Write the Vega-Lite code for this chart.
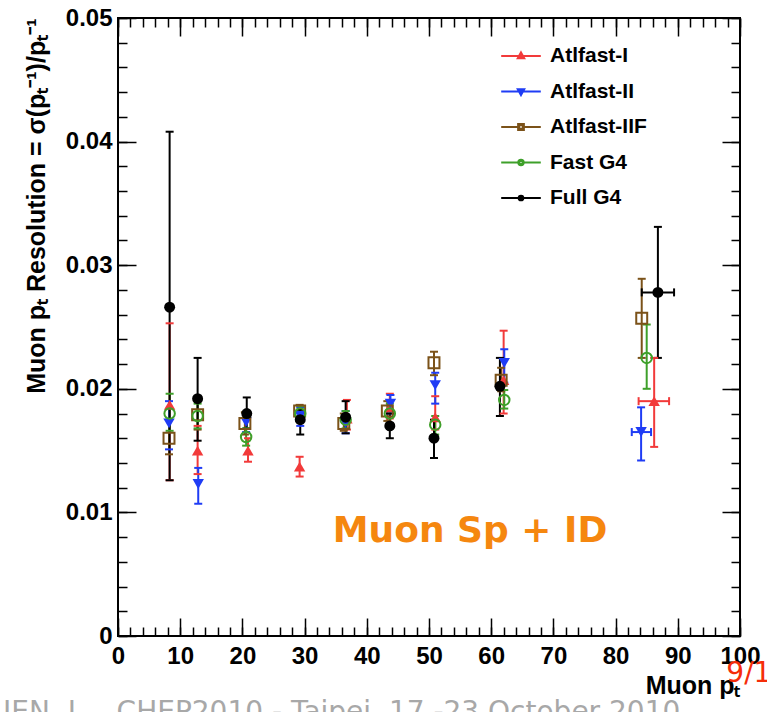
{
  "$schema": "https://vega.github.io/schema/vega-lite/v6.json",
  "width": 622,
  "height": 618,
  "autosize": {"type": "none"},
  "padding": {"left": 118, "top": 18, "right": 27, "bottom": 76},
  "background": "white",
  "config": {
    "view": {"stroke": "black", "strokeWidth": 2},
    "axis": {
      "domain": false, "grid": false,
      "labelFont": "Liberation Sans", "labelFontWeight": "bold", "labelFontSize": 24, "labelColor": "black",
      "labelFlush": false, "labelOverlap": false,
      "tickColor": "black", "tickWidth": 1.5,
      "titleFont": "Liberation Sans", "titleFontWeight": "bold", "titleFontSize": 25, "titleColor": "black"
    }
  },
  "datasets": {
    "pts": [
      {"s": "Atlfast-I", "x": 8.3, "y": 0.0187, "ylo": 0.0126, "yhi": 0.0253},
      {"s": "Atlfast-I", "x": 12.8, "y": 0.0150, "ylo": 0.0131, "yhi": 0.0170},
      {"s": "Atlfast-I", "x": 20.9, "y": 0.0150, "ylo": 0.0141, "yhi": 0.0160},
      {"s": "Atlfast-I", "x": 29.2, "y": 0.0137, "ylo": 0.0129, "yhi": 0.0145},
      {"s": "Atlfast-I", "x": 36.8, "y": 0.0176, "ylo": 0.0167, "yhi": 0.0191},
      {"s": "Atlfast-I", "x": 43.7, "y": 0.0185, "ylo": 0.0176, "yhi": 0.0196},
      {"s": "Atlfast-I", "x": 51.0, "y": 0.0177, "ylo": 0.0167, "yhi": 0.0194},
      {"s": "Atlfast-I", "x": 62.0, "y": 0.0207, "ylo": 0.0180, "yhi": 0.0247},
      {"s": "Atlfast-I", "x": 86.2, "y": 0.0190, "ylo": 0.0153, "yhi": 0.0225, "xlo": 83.7, "xhi": 88.6},
      {"s": "Atlfast-II", "x": 8.2, "y": 0.0172, "ylo": 0.0151, "yhi": 0.0190},
      {"s": "Atlfast-II", "x": 12.9, "y": 0.0123, "ylo": 0.0107, "yhi": 0.0136},
      {"s": "Atlfast-II", "x": 20.6, "y": 0.0173, "ylo": 0.0165, "yhi": 0.0180},
      {"s": "Atlfast-II", "x": 29.3, "y": 0.0178, "ylo": 0.0170, "yhi": 0.0185},
      {"s": "Atlfast-II", "x": 36.6, "y": 0.0172, "ylo": 0.0164, "yhi": 0.0182},
      {"s": "Atlfast-II", "x": 43.8, "y": 0.0188, "ylo": 0.0180, "yhi": 0.0195},
      {"s": "Atlfast-II", "x": 51.0, "y": 0.0203, "ylo": 0.0188, "yhi": 0.0213},
      {"s": "Atlfast-II", "x": 62.1, "y": 0.0221, "ylo": 0.0205, "yhi": 0.0232},
      {"s": "Atlfast-II", "x": 84.1, "y": 0.0165, "ylo": 0.0142, "yhi": 0.0185, "xlo": 82.6, "xhi": 85.7},
      {"s": "Atlfast-IIF", "x": 8.2, "y": 0.0160, "ylo": 0.0147, "yhi": 0.0175},
      {"s": "Atlfast-IIF", "x": 12.8, "y": 0.0179, "ylo": 0.0167, "yhi": 0.0190},
      {"s": "Atlfast-IIF", "x": 20.4, "y": 0.0172, "ylo": 0.0163, "yhi": 0.0181},
      {"s": "Atlfast-IIF", "x": 29.2, "y": 0.0182, "ylo": 0.0174, "yhi": 0.0187},
      {"s": "Atlfast-IIF", "x": 36.3, "y": 0.0172, "ylo": 0.0166, "yhi": 0.0180},
      {"s": "Atlfast-IIF", "x": 43.3, "y": 0.0182, "ylo": 0.0174, "yhi": 0.0190},
      {"s": "Atlfast-IIF", "x": 50.8, "y": 0.0221, "ylo": 0.0211, "yhi": 0.0230},
      {"s": "Atlfast-IIF", "x": 61.6, "y": 0.0207, "ylo": 0.0198, "yhi": 0.0217},
      {"s": "Atlfast-IIF", "x": 84.2, "y": 0.0257, "ylo": 0.0225, "yhi": 0.0289},
      {"s": "Fast G4", "x": 8.3, "y": 0.0180, "ylo": 0.0166, "yhi": 0.0196},
      {"s": "Fast G4", "x": 12.8, "y": 0.0178, "ylo": 0.0168, "yhi": 0.0188},
      {"s": "Fast G4", "x": 20.6, "y": 0.0161, "ylo": 0.0154, "yhi": 0.0168},
      {"s": "Fast G4", "x": 29.3, "y": 0.0180, "ylo": 0.0174, "yhi": 0.0186},
      {"s": "Fast G4", "x": 36.6, "y": 0.0175, "ylo": 0.0168, "yhi": 0.0182},
      {"s": "Fast G4", "x": 43.7, "y": 0.0180, "ylo": 0.0172, "yhi": 0.0188},
      {"s": "Fast G4", "x": 51.0, "y": 0.0171, "ylo": 0.0163, "yhi": 0.0178},
      {"s": "Fast G4", "x": 62.1, "y": 0.0191, "ylo": 0.0184, "yhi": 0.0199},
      {"s": "Fast G4", "x": 85.0, "y": 0.0225, "ylo": 0.0200, "yhi": 0.0252},
      {"s": "Full G4", "x": 8.3, "y": 0.0266, "ylo": 0.0126, "yhi": 0.0408},
      {"s": "Full G4", "x": 12.8, "y": 0.0192, "ylo": 0.0158, "yhi": 0.0225},
      {"s": "Full G4", "x": 20.7, "y": 0.0180, "ylo": 0.0168, "yhi": 0.0193},
      {"s": "Full G4", "x": 29.3, "y": 0.0175, "ylo": 0.0163, "yhi": 0.0183},
      {"s": "Full G4", "x": 36.6, "y": 0.0177, "ylo": 0.0164, "yhi": 0.0190},
      {"s": "Full G4", "x": 43.7, "y": 0.0170, "ylo": 0.0160, "yhi": 0.0180},
      {"s": "Full G4", "x": 50.8, "y": 0.0160, "ylo": 0.0144, "yhi": 0.0175},
      {"s": "Full G4", "x": 61.4, "y": 0.0202, "ylo": 0.0178, "yhi": 0.0225},
      {"s": "Full G4", "x": 86.8, "y": 0.0278, "ylo": 0.0225, "yhi": 0.0331, "xlo": 84.2, "xhi": 89.4}
    ]
  },
  "resolve": {"axis": {"x": "independent", "y": "independent"}},
  "layer": [
    {
      "data": {"values": []},
      "mark": "point",
      "encoding": {
        "x": {"field": "x", "type": "quantitative",
          "scale": {"domain": [0, 100], "nice": false, "zero": false},
          "axis": {"orient": "bottom", "values": [0, 10, 20, 30, 40, 50, 60, 70, 80, 90, 100], "ticks": false, "labelPadding": 8,
            "title": "Muon pₜ", "titleAnchor": "end", "titlePadding": 5}},
        "y": {"field": "y", "type": "quantitative",
          "scale": {"domain": [0, 0.05], "nice": false, "zero": false},
          "axis": {"orient": "left", "values": [0, 0.01, 0.02, 0.03, 0.04, 0.05], "ticks": false, "labelPadding": 6,
            "labelExpr": "datum.value === 0 ? '0' : format(datum.value, '.2f')",
            "title": "Muon pₜ Resolution = σ(pₜ⁻¹)/pₜ⁻¹", "titleAnchor": "end", "titlePadding": 16}}
      }
    },
    {
      "data": {"values": []},
      "mark": "point",
      "encoding": {
        "x": {"field": "x", "type": "quantitative",
          "axis": {"orient": "bottom", "values": [0, 10, 20, 30, 40, 50, 60, 70, 80, 90, 100], "labels": false, "tickSize": -18, "title": null}},
        "y": {"field": "y", "type": "quantitative",
          "axis": {"orient": "left", "values": [0, 0.01, 0.02, 0.03, 0.04, 0.05], "labels": false, "tickSize": -18, "title": null}}
      }
    },
    {
      "data": {"values": []},
      "mark": "point",
      "encoding": {
        "x": {"field": "x", "type": "quantitative",
          "axis": {"orient": "bottom", "values": [0, 2, 4, 6, 8, 10, 12, 14, 16, 18, 20, 22, 24, 26, 28, 30, 32, 34, 36, 38, 40, 42, 44, 46, 48, 50, 52, 54, 56, 58, 60, 62, 64, 66, 68, 70, 72, 74, 76, 78, 80, 82, 84, 86, 88, 90, 92, 94, 96, 98, 100], "labels": false, "tickSize": -9, "title": null}},
        "y": {"field": "y", "type": "quantitative",
          "axis": {"orient": "left", "values": [0, 0.002, 0.004, 0.006, 0.008, 0.01, 0.012, 0.014, 0.016, 0.018, 0.02, 0.022, 0.024, 0.026, 0.028, 0.03, 0.032, 0.034, 0.036, 0.038, 0.04, 0.042, 0.044, 0.046, 0.048, 0.05], "labels": false, "tickSize": -9, "title": null}}
      }
    },
    {
      "data": {"values": []},
      "mark": "point",
      "encoding": {
        "x": {"field": "x", "type": "quantitative",
          "axis": {"orient": "top", "values": [0, 10, 20, 30, 40, 50, 60, 70, 80, 90, 100], "labels": false, "tickSize": -18, "title": null}},
        "y": {"field": "y", "type": "quantitative",
          "axis": {"orient": "right", "values": [0, 0.01, 0.02, 0.03, 0.04, 0.05], "labels": false, "tickSize": -18, "title": null}}
      }
    },
    {
      "data": {"values": []},
      "mark": "point",
      "encoding": {
        "x": {"field": "x", "type": "quantitative",
          "axis": {"orient": "top", "values": [0, 2, 4, 6, 8, 10, 12, 14, 16, 18, 20, 22, 24, 26, 28, 30, 32, 34, 36, 38, 40, 42, 44, 46, 48, 50, 52, 54, 56, 58, 60, 62, 64, 66, 68, 70, 72, 74, 76, 78, 80, 82, 84, 86, 88, 90, 92, 94, 96, 98, 100], "labels": false, "tickSize": -9, "title": null}},
        "y": {"field": "y", "type": "quantitative",
          "axis": {"orient": "right", "values": [0, 0.002, 0.004, 0.006, 0.008, 0.01, 0.012, 0.014, 0.016, 0.018, 0.02, 0.022, 0.024, 0.026, 0.028, 0.03, 0.032, 0.034, 0.036, 0.038, 0.04, 0.042, 0.044, 0.046, 0.048, 0.05], "labels": false, "tickSize": -9, "title": null}}
      }
    },
    {
      "data": {"name": "pts"},
      "mark": {"type": "rule", "strokeWidth": 2},
      "encoding": {
        "x": {"field": "x", "type": "quantitative", "axis": null},
        "y": {"field": "ylo", "type": "quantitative", "axis": null},
        "y2": {"field": "yhi"},
        "color": {"field": "s", "type": "nominal",
          "scale": {"domain": ["Atlfast-I", "Atlfast-II", "Atlfast-IIF", "Fast G4", "Full G4"], "range": ["#f23a3a", "#1f3cf5", "#7b5219", "#3ea02a", "#000000"]},
          "legend": {
            "title": null, "orient": "none", "legendX": 384, "legendY": 19, "padding": 0, "rowPadding": 6.5,
            "symbolSize": 1296, "labelFont": "Liberation Sans", "labelFontWeight": "bold", "labelFontSize": 21,
            "labelColor": "black", "labelOffset": 10, "labelLimit": 300,
            "encode": {"symbols": {"update": {
              "shape": {"signal": "datum.value === 'Atlfast-I' ? 'M-1.1,0H1.1M0,-0.2L0.18,0.12L-0.18,0.12Z' : datum.value === 'Atlfast-II' ? 'M-1.1,0H1.1M0,0.2L0.18,-0.12L-0.18,-0.12Z' : datum.value === 'Atlfast-IIF' ? 'M-1.1,0H-0.16M0.16,0H1.1M-0.16,-0.16H0.16V0.16H-0.16ZM-0.1,-0.1V0.1H0.1V-0.1Z' : datum.value === 'Fast G4' ? 'M-1.1,0H-0.15M0.15,0H1.1M-0.15,0A0.15,0.15 0 1,0 0.15,0A0.15,0.15 0 1,0 -0.15,0ZM-0.09,0A0.09,0.09 0 1,1 0.09,0A0.09,0.09 0 1,1 -0.09,0Z' : 'M-1.1,0H1.1M-0.13,0A0.13,0.13 0 1,0 0.13,0A0.13,0.13 0 1,0 -0.13,0Z'"},
              "stroke": {"signal": "datum.value === 'Atlfast-I' ? '#f23a3a' : datum.value === 'Atlfast-II' ? '#1f3cf5' : datum.value === 'Atlfast-IIF' ? '#7b5219' : datum.value === 'Fast G4' ? '#3ea02a' : '#000000'"},
              "strokeWidth": {"value": 2},
              "size": {"value": 1296},
              "opacity": {"value": 1}
            }}}
          }}
      }
    },
    {
      "data": {"name": "pts"},
      "transform": [{"filter": "isValid(datum.xlo)"}],
      "mark": {"type": "rule", "strokeWidth": 2},
      "encoding": {
        "x": {"field": "xlo", "type": "quantitative", "axis": null},
        "x2": {"field": "xhi"},
        "y": {"field": "y", "type": "quantitative", "axis": null},
        "color": {"field": "s", "type": "nominal"}
      }
    },
    {
      "data": {"name": "pts"},
      "mark": {"type": "tick", "orient": "horizontal", "size": 8, "thickness": 2, "opacity": 1},
      "encoding": {
        "x": {"field": "x", "type": "quantitative", "axis": null},
        "y": {"field": "ylo", "type": "quantitative", "axis": null},
        "color": {"field": "s", "type": "nominal"}
      }
    },
    {
      "data": {"name": "pts"},
      "mark": {"type": "tick", "orient": "horizontal", "size": 8, "thickness": 2, "opacity": 1},
      "encoding": {
        "x": {"field": "x", "type": "quantitative", "axis": null},
        "y": {"field": "yhi", "type": "quantitative", "axis": null},
        "color": {"field": "s", "type": "nominal"}
      }
    },
    {
      "data": {"name": "pts"},
      "transform": [{"filter": "isValid(datum.xlo)"}],
      "mark": {"type": "tick", "orient": "vertical", "size": 8, "thickness": 2, "opacity": 1},
      "encoding": {
        "x": {"field": "xlo", "type": "quantitative", "axis": null},
        "y": {"field": "y", "type": "quantitative", "axis": null},
        "color": {"field": "s", "type": "nominal"}
      }
    },
    {
      "data": {"name": "pts"},
      "transform": [{"filter": "isValid(datum.xlo)"}],
      "mark": {"type": "tick", "orient": "vertical", "size": 8, "thickness": 2, "opacity": 1},
      "encoding": {
        "x": {"field": "xhi", "type": "quantitative", "axis": null},
        "y": {"field": "y", "type": "quantitative", "axis": null},
        "color": {"field": "s", "type": "nominal"}
      }
    },
    {
      "data": {"name": "pts"},
      "transform": [{"filter": "datum.s === 'Atlfast-I'"}],
      "mark": {"type": "point", "shape": "triangle-up", "filled": true, "opacity": 1, "size": 130},
      "encoding": {
        "x": {"field": "x", "type": "quantitative", "axis": null},
        "y": {"field": "y", "type": "quantitative", "axis": null},
        "color": {"field": "s", "type": "nominal"}
      }
    },
    {
      "data": {"name": "pts"},
      "transform": [{"filter": "datum.s === 'Atlfast-II'"}],
      "mark": {"type": "point", "shape": "triangle-down", "filled": true, "opacity": 1, "size": 130},
      "encoding": {
        "x": {"field": "x", "type": "quantitative", "axis": null},
        "y": {"field": "y", "type": "quantitative", "axis": null},
        "color": {"field": "s", "type": "nominal"}
      }
    },
    {
      "data": {"name": "pts"},
      "transform": [{"filter": "datum.s === 'Atlfast-IIF'"}],
      "mark": {"type": "point", "shape": "square", "filled": false, "opacity": 1, "size": 120, "strokeWidth": 2},
      "encoding": {
        "x": {"field": "x", "type": "quantitative", "axis": null},
        "y": {"field": "y", "type": "quantitative", "axis": null},
        "color": {"field": "s", "type": "nominal"}
      }
    },
    {
      "data": {"name": "pts"},
      "transform": [{"filter": "datum.s === 'Fast G4'"}],
      "mark": {"type": "point", "shape": "circle", "filled": false, "opacity": 1, "size": 110, "strokeWidth": 2},
      "encoding": {
        "x": {"field": "x", "type": "quantitative", "axis": null},
        "y": {"field": "y", "type": "quantitative", "axis": null},
        "color": {"field": "s", "type": "nominal"}
      }
    },
    {
      "data": {"name": "pts"},
      "transform": [{"filter": "datum.s === 'Full G4'"}],
      "mark": {"type": "point", "shape": "circle", "filled": true, "opacity": 1, "size": 120},
      "encoding": {
        "x": {"field": "x", "type": "quantitative", "axis": null},
        "y": {"field": "y", "type": "quantitative", "axis": null},
        "color": {"field": "s", "type": "nominal"}
      }
    },
    {
      "data": {"values": [{}]},
      "mark": {"type": "text", "font": "DejaVu Sans", "fontWeight": "bold", "fontSize": 36, "color": "#f5870f", "align": "center", "baseline": "middle"},
      "encoding": {
        "x": {"datum": 56.6, "type": "quantitative", "axis": null},
        "y": {"datum": 0.0085, "type": "quantitative", "axis": null},
        "text": {"value": "Muon Sp + ID"}
      }
    },
    {
      "data": {"values": [{}]},
      "mark": {"type": "text", "font": "DejaVu Sans", "fontSize": 28, "color": "#a8a8a8", "align": "left", "baseline": "alphabetic"},
      "encoding": {
        "x": {"datum": -18.5, "type": "quantitative", "axis": null},
        "y": {"datum": -0.0069, "type": "quantitative", "axis": null},
        "text": {"value": "IEN, I.  – CHEP2010 - Taipei, 17 -23 October 2010"}
      }
    },
    {
      "data": {"values": [{}]},
      "mark": {"type": "text", "font": "DejaVu Sans", "fontSize": 28, "color": "#f52d0a", "align": "left", "baseline": "alphabetic"},
      "encoding": {
        "x": {"datum": 97.8, "type": "quantitative", "axis": null},
        "y": {"datum": -0.0037, "type": "quantitative", "axis": null},
        "text": {"value": "9/17"}
      }
    }
  ]
}
